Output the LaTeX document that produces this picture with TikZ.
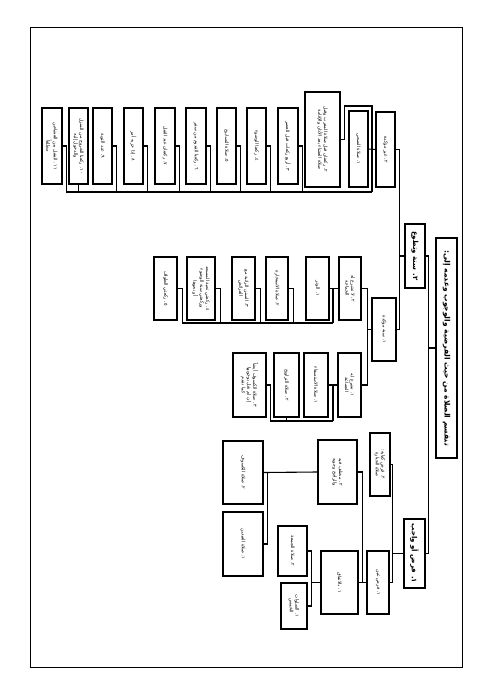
\documentclass[tikz,border=0pt]{standalone}
\usepackage{fontspec}
\usetikzlibrary{calc}
\newfontfamily\arabicfont[Script=Arabic]{DejaVu Sans}
\TeXXeTstate=1
\newcommand{\ar}[1]{\beginR #1\endR}
\newcommand{\bx}[7][]{\node[box,minimum width={(#6-#5)*1pt},minimum height={(#4-#3)*1pt},#1] (#2) at ({(#3+#4)/2},{(#5+#6)/2}) {#7};}
\begin{document}
\begin{tikzpicture}[x=1pt,y=-1pt,
  box/.style={draw,line width=1.1pt,rotate=-90,inner sep=0.5pt,align=center,
    font=\arabicfont\fontsize{4.7}{5.8}\selectfont},
  boldtext/.style={font=\arabicfont\bfseries\fontsize{7}{8.5}\selectfont},
  link/.style={draw,line width=1.1pt}]
\useasboundingbox (0,0) rectangle (491,694);
\fill[white] (0,0) rectangle (491,694);
\draw[line width=1pt] (30,27) rectangle (462,667);

% root and main branches
\bx[boldtext,font=\arabicfont\bfseries\fontsize{7.5}{9}\selectfont]{T}{436}{457}{238}{458}{\ar{تنقسم الصلاة من حيث الفرضية والوجوب وعدمه إلى:}}
\bx[boldtext]{S2}{405}{425}{224}{288}{\ar{٢. سنة وتطوع}}
\bx[boldtext]{F1}{404}{425}{519}{588}{\ar{١. فرض أو واجب}}

% sunna level
\bx{G}{376}{395}{112}{187}{\ar{٢. غير مؤكدة}}
\bx{M}{372}{396}{298}{361}{\ar{١. سنة مؤكدة}}

% fard level
\bx{K}{370}{390}{433}{496}{\ar{٢. فرض كفاية:}\\\ar{صلاة الجنازة}}
\bx{A}{367}{389}{551}{614}{\ar{١. فرض عين}}
\bx{W}{318}{357}{440}{504}{\ar{٢. مختلف فيه}\\\ar{والراجح وجوبه}}
\bx{B}{321}{358}{551}{614}{\ar{١. بالاتفاق}}
\bx{J}{278}{307}{526}{576}{\ar{٢. صلاة الجمعة}}
\bx{P}{281}{307}{583}{629}{\ar{١. الصلوات}\\\ar{الخمس}}
\bx{KS}{223}{263}{441}{504}{\ar{٢. صلاة الكسوف}}
\bx{ID}{223}{263}{512}{576}{\ar{١. صلاة العيدين}}

% sunna muakkada
\bx{N2}{339}{361}{257}{320}{\ar{٢. لا تشرع له}\\\ar{الجماعة}}
\bx{N1}{338}{361}{353}{417}{\ar{١. تشرع له}\\\ar{الجماعة}}
\bx{V1}{306}{329}{257}{320}{\ar{١. الوتر}}
\bx{V2}{266}{288}{257}{320}{\ar{٢. صلاة الاستخارة}}
\bx{V3}{232}{255}{257}{320}{\ar{٣. السنن الراتبة مع}\\\ar{الفرائض}}
\bx{V4}{187}{215}{257}{320}{\ar{٤. ركعتي تحية المسجد}\\\ar{وركعتي سنة الوضوء}\\\ar{أو نحوها}}
\bx{V5}{154}{177}{257}{320}{\ar{٥. ركعتي الطواف}}
\bx{U1}{304}{328}{353}{417}{\ar{١. صلاة الاستسقاء}}
\bx{U2}{274}{299}{353}{417}{\ar{٢. صلاة التراويح}}
\bx{U3}{233}{266}{353}{417}{\ar{٣. صلاة الكسوف أيضاً}\\\ar{إن لم نقل بوجوبها}\\\ar{كما تقدم}}

% ghayr muakkada
\bx{H1}{349}{368}{111}{187}{\ar{١. صلاة الضحى}}
\bx{H2}{305}{340}{92}{187}{\ar{٢. ركعتان قبل صلاة المغرب وقبل}\\\ar{صلاة العشاء بعد الأذان والإقامة}}
\bx{H3}{278}{298}{108}{184}{\ar{٣. أربع ركعات قبل العصر}}
\bx{H4}{247}{266}{108}{184}{\ar{٤. ركعتا الوضوء}}
\bx{H5}{217}{236}{108}{184}{\ar{٥. صلاة التسابيح}}
\bx{H6}{186}{206}{108}{184}{\ar{٦. ركعتا القدوم من سفر}}
\bx{H7}{155}{175}{108}{184}{\ar{٧. ركعتان عند القتل}}
\bx{H8}{124}{143}{108}{184}{\ar{٨. إذا حزبه أمر}}
\bx{H9}{93}{112}{108}{184}{\ar{٩. عند التوبة}}
\bx{H10}{69}{88}{108}{184}{\ar{١٠. ركعتا الخروج من المنزل}\\\ar{والدخول إليه}}
\bx{H11}{42}{62}{108}{184}{\ar{١١. التنفل بين العشاءين}\\\ar{مطلقاً}}

% connectors: root
\draw[link] (T.south) -- ++(-7,0) coordinate (tr);
\draw[link] (S2.north) -- (S2.north -| tr) -- (F1.north -| tr) -- (F1.north);
% sunna
\draw[link] (S2.south) -- ++(-5,0) coordinate (sb);
\draw[link] (G.north) -- (G.north -| sb) -- (M.north -| sb) -- (M.north);
% fard
\draw[link] (F1.south) -- ++(-11,0) coordinate (fb);
\draw[link] (K.north) -- (K.north -| fb) -- (A.north -| fb) -- (A.north);
\draw[link] (A.south) -- (B.north);
\draw[link] (W.north) -- ++(5,0) |- (A.south);
\draw[link] (B.south) -- ++(-9,0) coordinate (bb);
\draw[link] (J.north) -- (J.north -| bb) -- (P.north -| bb) -- (P.north);
\draw[link] (W.south) -- (KS.north);
\draw[link] (ID.north) -- ++(4,0) |- (KS.north);
% muakkada
\draw[link] (M.south) -- ++(-4,0) coordinate (mb);
\draw[link] (N2.north) -- (N2.north -| mb) -- (N1.north -| mb) -- (N1.north);
\coordinate (n2bus) at (333,323);
\draw[link] (N2.south) -- (V1.north);
\draw[link] (N2.south -| n2bus) -- (n2bus);
\foreach \v in {V2,V3,V4,V5} \draw[link] (\v.north) -- ++(4.5,0) |- (n2bus);
\coordinate (n1bus) at (333,421);
\draw[link] (N1.south) -- (U1.north);
\draw[link] (N1.south -| n1bus) -- (n1bus);
\draw[link] (U2.east) -- (U2.east |- n1bus) -- (n1bus);
\draw[link] (U3.north) -- ++(4,0) |- (n1bus);
% ghayr muakkada
\coordinate (gbus) at (372,192);
\draw[link] (G.south) -- (H1.north);
\draw[link] (H2.north) -- ++(4,0) |- ($(gbus)+(0,-86)$) -- (gbus);
\foreach \h in {H3,H4,H5,H6,H7,H8,H9,H11} \draw[link] (\h.north) -- ++(4,0) |- (gbus);
\draw[link] (H10.east) -- (H10.east |- gbus) -- (gbus);
\end{tikzpicture}
\end{document}
